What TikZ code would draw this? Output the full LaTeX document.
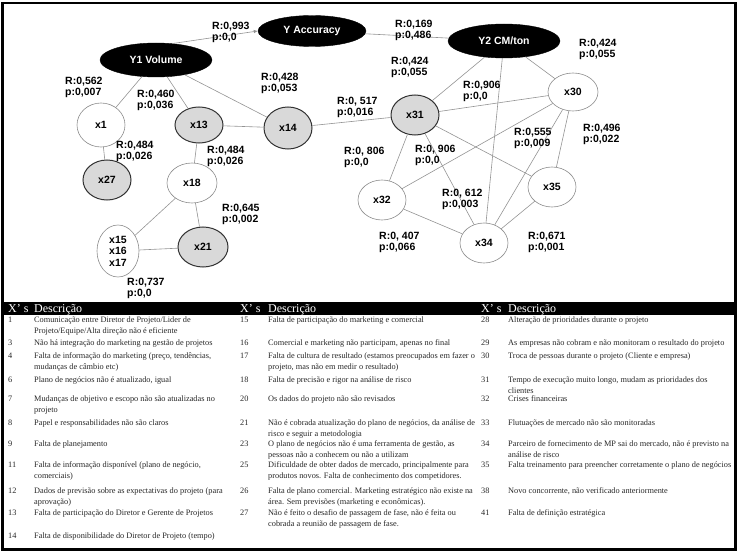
\documentclass[tikz,border=0pt]{standalone}
\usepackage{fontspec}
\setmainfont{Liberation Serif}
\setsansfont{Liberation Sans}
\usetikzlibrary{positioning,arrows.meta,shapes.geometric}
\newcommand{\xcell}[1]{\begin{tabular}[t]{@{}l@{}}#1\end{tabular}}
\tikzset{
  ynode/.style={ellipse, draw=black, fill=black, text=white, inner sep=0pt, font=\sffamily\bfseries\fontsize{10.5}{12}\selectfont},
  xnode/.style={ellipse, draw=gray!90, fill=white, line width=0.6pt, inner sep=0pt, minimum width=48pt, minimum height=40pt, align=center, font=\sffamily\bfseries\fontsize{10.5}{11.5}\selectfont},
  xgrey/.style={xnode, draw=black!80, fill=gray!30, line width=1pt},
  link/.style={draw=gray!85, line width=0.6pt},
  rlabel/.style={anchor=west, align=left, inner sep=0pt, font=\sffamily\bfseries\fontsize{10.5}{11}\selectfont},
  xnum/.style={anchor=base west, inner sep=0pt, text=black!85, font=\fontsize{8.3}{11.5}\selectfont},
  xdesc/.style={xnum},
  xhead/.style={anchor=base west, inner sep=0pt, text=white, font=\fontsize{12}{13}\selectfont}
}
\begin{document}
\begin{tikzpicture}[x=1pt, y=-1pt, >=Latex]
  \useasboundingbox (0,0) rectangle (744,559);
  \draw[line width=2.5pt] (2.5,3) rectangle (735.5,549.5);

  % outcome nodes
  \node[ynode, minimum width=112pt, minimum height=34pt] (y1) at (156,60) {Y1 Volume};
  \node[ynode, minimum width=108pt, minimum height=31pt] (yacc) at (312,31) {Y Accuracy};
  \node[ynode, minimum width=112pt, minimum height=34pt] (y2) at (504,41) {Y2 CM/ton};

  % causes
  \node[xnode, minimum height=44pt] (x1) at (101,125) {x1};
  \node[xgrey, minimum height=36pt] (x13) at (199,125) {x13};
  \node[xgrey, minimum height=42pt] (x14) at (288,128) {x14};
  \node[xgrey] (x27) at (107,180) {x27};
  \node[xnode, minimum width=50pt] (x18) at (192,183) {x18};
  \node[xnode, minimum width=42pt, minimum height=52pt] (x1517) at (118,251) {x15\\x16\\x17};
  \node[xgrey, minimum width=50pt] (x21) at (203,247) {x21};
  \node[xgrey] (x31) at (415,115) {x31};
  \node[xnode, minimum width=50pt, minimum height=38pt] (x30) at (573,92) {x30};
  \node[xnode] (x32) at (382,200) {x32};
  \node[xnode] (x34) at (484,243) {x34};
  \node[xnode] (x35) at (552,187) {x35};

  % links
  \draw[link, ->, >={Latex[length=4pt, width=3.5pt]}] (y1.45) -- (yacc.west);
  \draw[link] (yacc) -- (y2);
  \draw[link] (y1) -- (x1);
  \draw[link] (y1) -- (x13);
  \draw[link] (y1) -- (x14);
  \draw[link] (x13) -- (x14);
  \draw[link] (x1) -- (x27);
  \draw[link] (x13) -- (x18);
  \draw[link] (x18) -- (x1517);
  \draw[link] (x18) -- (x21);
  \draw[link] (x1517) -- (x21);
  \draw[link] (x14) -- (x31);
  \draw[link] (y2) -- (x31);
  \draw[link] (y2) -- (x34);
  \draw[link] (y2) -- (x30);
  \draw[link] (x31) -- (x30);
  \draw[link] (x31) -- (x32);
  \draw[link] (x31) -- (x34);
  \draw[link] (x31) -- (x35);
  \draw[link] (x30) -- (x32);
  \draw[link] (x30) -- (x34);
  \draw[link] (x30) -- (x35);
  \draw[link] (x32) -- (x34);
  \draw[link] (x35) -- (x34);

  % correlation labels
  \node[rlabel] (ry1acc) at (212,32) {R:0,993\\p:0,0};
  \node[rlabel] (raccy2) at (395,30) {R:0,169\\p:0,486};
  \node[rlabel] (ry1x1) at (65,87) {R:0,562\\p:0,007};
  \node[rlabel] (ry1x13) at (137,100) {R:0,460\\p:0,036};
  \node[rlabel] (ry1x14) at (261,83) {R:0,428\\p:0,053};
  \node[rlabel] (rx1x27) at (116,151) {R:0,484\\p:0,026};
  \node[rlabel] (rx13x18) at (207,156) {R:0,484\\p:0,026};
  \node[rlabel] (rx18x21) at (222,214) {R:0,645\\p:0,002};
  \node[rlabel] (rx15x21) at (127,288) {R:0,737\\p:0,0};
  \node[rlabel] (rx14x31) at (337,107) {R:0, 517\\p:0,016};
  \node[rlabel] (ry2x31) at (391,67) {R:0,424\\p:0,055};
  \node[rlabel] (ry2x30) at (579,49) {R:0,424\\p:0,055};
  \node[rlabel] (rx31x30) at (463,91) {R:0,906\\p:0,0};
  \node[rlabel] (rx30x34) at (514,138) {R:0,555\\p:0,009};
  \node[rlabel] (rx30x35) at (583,134) {R:0,496\\p:0,022};
  \node[rlabel] (rx31x32) at (344,157) {R:0, 806\\p:0,0};
  \node[rlabel] (rx31x34) at (415,155) {R:0, 906\\p:0,0};
  \node[rlabel] (ry2x34) at (442,199) {R:0, 612\\p:0,003};
  \node[rlabel] (rx32x34) at (379,242) {R:0, 407\\p:0,066};
  \node[rlabel] (rx35x34) at (528,242) {R:0,671\\p:0,001};

  % table header
  \fill (3,302) rectangle (735,315);
  \node[xhead] (ha) at (8,312.5) {X' s};
  \node[xhead] (hb) at (34,312.5) {Descrição};
  \node[xhead] (hc) at (240,312.5) {X' s};
  \node[xhead] (hd) at (268,312.5) {Descrição};
  \node[xhead] (he) at (481,312.5) {X' s};
  \node[xhead] (hf) at (508,312.5) {Descrição};

  % first column
  \node[xnum] (n1) at (8,322) {1};
  \node[xdesc] (d1) at (34,322) {\xcell{Comunicação entre Diretor de Projeto/Lider de\\Projeto/Equipe/Alta direção não é eficiente}};
  \node[xnum] (n3) at (8,345) {3};
  \node[xdesc] (d3) at (34,345) {Não há integração do marketing na gestão de projetos};
  \node[xnum] (n4) at (8,358) {4};
  \node[xdesc] (d4) at (34,358) {\xcell{Falta de informação do marketing (preço, tendências,\\mudanças de câmbio etc)}};
  \node[xnum] (n6) at (8,382) {6};
  \node[xdesc] (d6) at (34,382) {Plano de negócios não é atualizado, igual};
  \node[xnum] (n7) at (8,401) {7};
  \node[xdesc] (d7) at (34,401) {\xcell{Mudanças de objetivo e escopo não são atualizadas no\\projeto}};
  \node[xnum] (n8) at (8,425) {8};
  \node[xdesc] (d8) at (34,425) {Papel e responsabilidades não são claros};
  \node[xnum] (n9) at (8,446) {9};
  \node[xdesc] (d9) at (34,446) {Falta de planejamento};
  \node[xnum] (n11) at (8,467) {11};
  \node[xdesc] (d11) at (34,467) {\xcell{Falta de informação disponível (plano de negócio,\\comerciais)}};
  \node[xnum] (n12) at (8,493) {12};
  \node[xdesc] (d12) at (34,493) {\xcell{Dados de previsão sobre as expectativas do projeto (para\\aprovação)}};
  \node[xnum] (n13) at (8,515) {13};
  \node[xdesc] (d13) at (34,515) {Falta de participação do Diretor e Gerente de Projetos};
  \node[xnum] (n14) at (8,538) {14};
  \node[xdesc] (d14) at (34,538) {Falta de disponibilidade do Diretor de Projeto (tempo)};

  % second column
  \node[xnum] (n15) at (240,322) {15};
  \node[xdesc] (d15) at (268,322) {Falta de participação do marketing e comercial};
  \node[xnum] (n16) at (240,345) {16};
  \node[xdesc] (d16) at (268,345) {Comercial e marketing não participam, apenas no final};
  \node[xnum] (n17) at (240,358) {17};
  \node[xdesc] (d17) at (268,358) {\xcell{Falta de cultura de resultado (estamos preocupados em fazer o\\projeto, mas não em medir o resultado)}};
  \node[xnum] (n18) at (240,382) {18};
  \node[xdesc] (d18) at (268,382) {Falta de precisão e rigor na análise de risco};
  \node[xnum] (n20) at (240,401) {20};
  \node[xdesc] (d20) at (268,401) {Os dados do projeto não são revisados};
  \node[xnum] (n21) at (240,425) {21};
  \node[xdesc] (d21) at (268,425) {\xcell{Não é cobrada atualização do plano de negócios, da análise de\\risco e seguir a metodologia}};
  \node[xnum] (n23) at (240,446) {23};
  \node[xdesc] (d23) at (268,446) {\xcell{O plano de negócios não é uma ferramenta de gestão, as\\pessoas não a conhecem ou não a utilizam}};
  \node[xnum] (n25) at (240,467) {25};
  \node[xdesc] (d25) at (268,467) {\xcell{Dificuldade de obter dados de mercado, principalmente para\\produtos novos. Falta de conhecimento dos competidores.}};
  \node[xnum] (n26) at (240,493) {26};
  \node[xdesc] (d26) at (268,493) {\xcell{Falta de plano comercial. Marketing estratégico não existe na\\área. Sem previsões (marketing e econômicas).}};
  \node[xnum] (n27) at (240,515) {27};
  \node[xdesc] (d27) at (268,515) {\xcell{Não é feito o desafio de passagem de fase, não é feita ou\\cobrada a reunião de passagem de fase.}};

  % third column
  \node[xnum] (n28) at (481,322) {28};
  \node[xdesc] (d28) at (508,322) {Alteração de prioridades durante o projeto};
  \node[xnum] (n29) at (481,345) {29};
  \node[xdesc] (d29) at (508,345) {As empresas não cobram e não monitoram o resultado do projeto};
  \node[xnum] (n30) at (481,358) {30};
  \node[xdesc] (d30) at (508,358) {Troca de pessoas durante o projeto (Cliente e empresa)};
  \node[xnum] (n31) at (481,382) {31};
  \node[xdesc] (d31) at (508,382) {\xcell{Tempo de execução muito longo, mudam as prioridades dos\\clientes}};
  \node[xnum] (n32) at (481,401) {32};
  \node[xdesc] (d32) at (508,401) {Crises financeiras};
  \node[xnum] (n33) at (481,425) {33};
  \node[xdesc] (d33) at (508,425) {Flutuações de mercado não são monitoradas};
  \node[xnum] (n34) at (481,446) {34};
  \node[xdesc] (d34) at (508,446) {\xcell{Parceiro de fornecimento de MP sai do mercado, não é previsto na\\análise de risco}};
  \node[xnum] (n35) at (481,467) {35};
  \node[xdesc] (d35) at (508,467) {Falta treinamento para preencher corretamente o plano de negócios};
  \node[xnum] (n38) at (481,493) {38};
  \node[xdesc] (d38) at (508,493) {Novo concorrente, não verificado anteriormente};
  \node[xnum] (n41) at (481,515) {41};
  \node[xdesc] (d41) at (508,515) {Falta de definição estratégica};
\end{tikzpicture}
\end{document}
